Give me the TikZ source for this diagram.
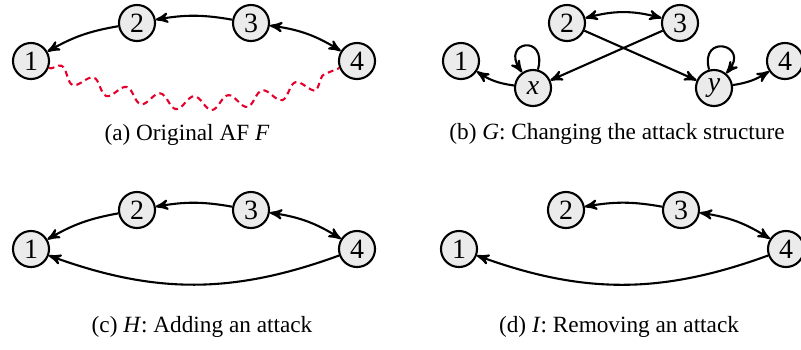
\documentclass[tikz,border=0pt]{standalone}
\usepackage{fontspec}
\setmainfont{Liberation Serif}
\usetikzlibrary{arrows,decorations.pathmorphing}
\definecolor{ink}    {HTML}{000000}
\definecolor{argfill}{HTML}{EBEBEB}
\definecolor{wavered}{HTML}{E4002B}
\tikzset{
  >=stealth',
  % --- nodes
  arg/.style    = {circle, draw=ink, fill=argfill, line width=0.9pt, inner sep=0pt,
                   minimum size=15.5pt, font=\large},
  subcap/.style = {font=\normalsize, inner sep=0pt},
  % --- edges
  e/.style      = {->, line width=0.9pt, draw=ink},
  ee/.style     = {<->, line width=0.9pt, draw=ink},
  wave/.style   = {draw=wavered, line width=0.9pt, dash pattern=on 2.5pt off 1.8pt,
                   decorate, decoration={snake, amplitude=3pt, segment length=15pt}},
}
\begin{document}
\begin{tikzpicture}[x=0.43pt, y=0.43pt]
  \useasboundingbox (0,0) rectangle (801,349);
  % (a) original AF
  \node[arg] (a1) at (31,288)  {1};
  \node[arg] (a2) at (137,326) {2};
  \node[arg] (a3) at (251,326) {3};
  \node[arg] (a4) at (357,288) {4};
  \draw[e]  (a2) to[bend right=10] (a1);
  \draw[e]  (a3) to[bend right=10] (a2);
  \draw[ee] (a3) to[bend left=12] (a4);
  \draw[wave] (a1) to[bend right=22] (a4);
  \node[subcap] (capa) at (187,214) {(a) Original AF \textit{F}};

  % (b) changed attack structure
  \node[arg] (b1) at (461,288) {1};
  \node[arg] (bx) at (533,261) {\textit{x}};
  \node[arg] (b2) at (567,326) {2};
  \node[arg] (b3) at (680,326) {3};
  \node[arg] (by) at (714,261) {\textit{y}};
  \node[arg] (b4) at (785,288) {4};
  \draw[ee] (b2) to[bend left=15] (b3);
  \draw[e]  (b2) -- (by);
  \draw[e]  (b3) -- (bx);
  \draw[e]  (bx) to[bend left=13] (b1);
  \draw[e]  (by) to[bend right=12] (b4);
  \draw[e]  (bx) to[out=75,in=125,looseness=6] (bx);
  \draw[e]  (by) to[out=105,in=50,looseness=5.5] (by);
  \node[subcap] (capb) at (617,215) {(b) \textit{G}: Changing the attack structure};

  % (c) added attack
  \node[arg] (c1) at (31,100)  {1};
  \node[arg] (c2) at (137,139) {2};
  \node[arg] (c3) at (251,139) {3};
  \node[arg] (c4) at (357,100) {4};
  \draw[e]  (c2) to[bend right=10] (c1);
  \draw[e]  (c3) to[bend right=10] (c2);
  \draw[ee] (c3) to[bend left=12] (c4);
  \draw[e]  (c4) to[bend left=20] (c1);
  \node[subcap] (capc) at (202,22) {(c) \textit{H}: Adding an attack};

  % (d) removed attack
  \node[arg] (d1) at (459,100) {1};
  \node[arg] (d2) at (566,139) {2};
  \node[arg] (d3) at (681,139) {3};
  \node[arg] (d4) at (786,100) {4};
  \draw[e]  (d3) to[bend right=10] (d2);
  \draw[ee] (d3) to[bend left=12] (d4);
  \draw[e]  (d4) to[bend left=20] (d1);
  \node[subcap] (capd) at (619,22) {(d) \textit{I}: Removing an attack};
\end{tikzpicture}
\end{document}
